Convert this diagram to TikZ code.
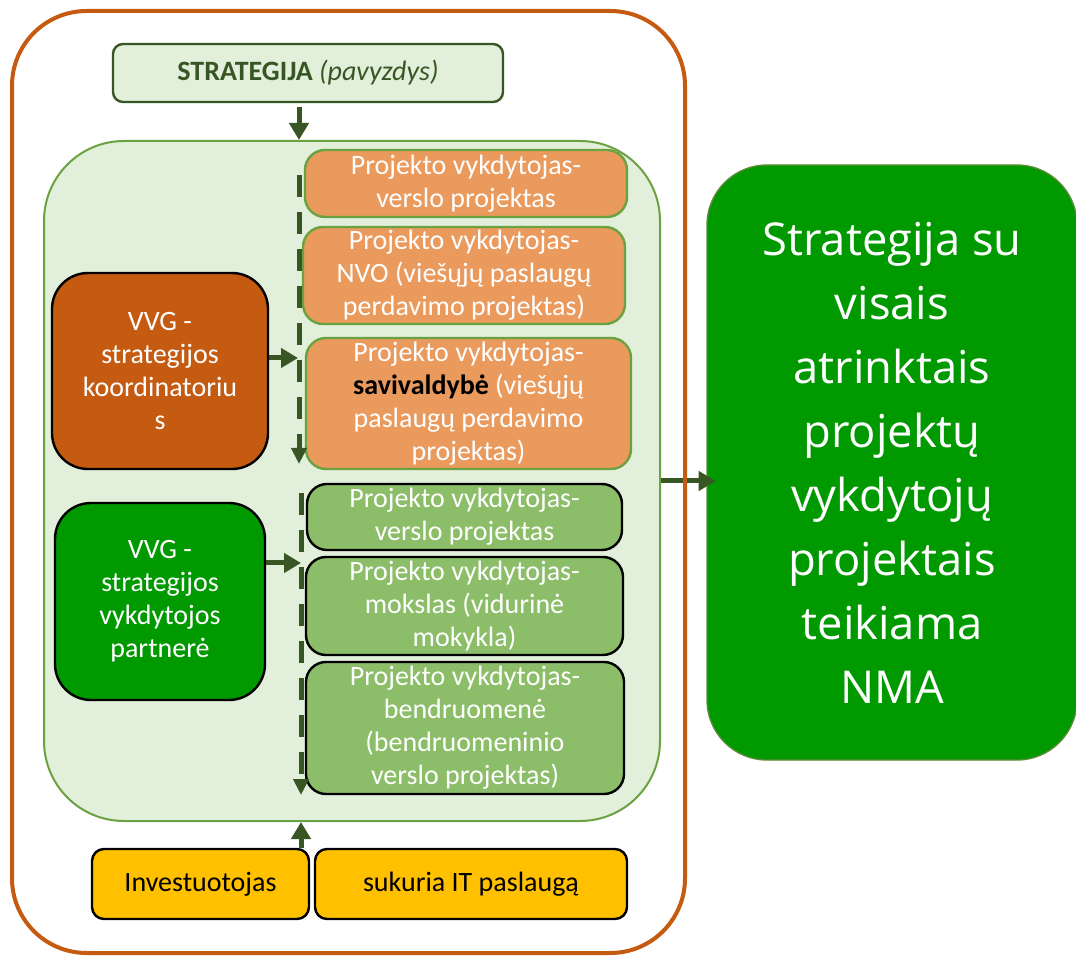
\documentclass[tikz,border=0pt]{standalone}
\usepackage{fontspec}
\setmainfont{Carlito}
\newfontfamily\osans{Open Sans}
\usetikzlibrary{arrows.meta}
\definecolor{orngdark}{HTML}{C55A11}
\definecolor{orngbox}{HTML}{EA9A5D}
\definecolor{lgreen}{HTML}{E2EFDA}
\definecolor{mgreen}{HTML}{6AA241}
\definecolor{dgreen}{HTML}{375623}
\definecolor{gbox}{HTML}{8CBD68}
\definecolor{vgreen}{HTML}{009900}
\definecolor{ylw}{HTML}{FFC000}
\definecolor{rbborder}{HTML}{5B8C3A}
\tikzset{
  txt/.style={align=center, inner sep=0pt, font=\fontsize{21}{24.75}\selectfont},
  orangebox/.style={txt, draw=mgreen, fill=orngbox, line width=1.8pt, rounded corners=15pt, text=white},
  greenbox/.style={txt, draw=black, fill=gbox, line width=1.8pt, rounded corners=15pt, text=white},
  vvgbox/.style={txt, draw=black, line width=1.8pt, rounded corners=27pt, text=white},
  yellowbox/.style={txt, draw=black, fill=ylw, line width=1.8pt, rounded corners=9pt, text=black},
  bigarrow/.style={draw=dgreen, line width=3.75pt, -{Triangle[width=14.25pt,length=12.75pt]}, dgreen},
  dasharrow/.style={draw=dgreen, line width=3.75pt, dash pattern=on 16.5pt off 11.25pt, -{Triangle[width=11.25pt,length=12pt]}, dgreen}
}
\begin{document}
\begin{tikzpicture}[x=0.75pt,y=-0.75pt]
\useasboundingbox (0,0) rectangle (1076,959);
\fill[white] (0,0) rectangle (1076,959);

% strategy box
\node[txt, draw=dgreen, fill=lgreen, line width=1.8pt, rounded corners=7.5pt, text=dgreen,
      minimum width=292.5pt, minimum height=43.5pt] (strat) at (308,73)
      {\textbf{STRATEGIJA} \textit{(pavyzdys)}};

% container
\node[draw=mgreen, fill=lgreen, line width=1.5pt, rounded corners=60pt,
      minimum width=462pt, minimum height=510pt, inner sep=0pt] (cont) at (352,481) {};

% coordinates for connectors
\coordinate (d1s) at (299,175);
\coordinate (d1e) at (299,464);
\coordinate (d2s) at (301,493);
\coordinate (d2e) at (301,795);
\coordinate (a1) at (298,358);
\coordinate (a2) at (301,563);

% orange boxes
\node[orangebox, minimum width=241.5pt, minimum height=50.25pt] (o1) at (466,183.5)
  {Projekto vykdytojas-\\verslo projektas};
\node[orangebox, minimum width=241.5pt, minimum height=72.75pt] (o2) at (464,275.5)
  {Projekto vykdytojas-\\NVO (viešųjų paslaugų\\perdavimo projektas)};
\node[orangebox, minimum width=243.75pt, minimum height=98.25pt] (o3) at (468.5,403.5)
  {Projekto vykdytojas-\\\textcolor{black}{\textbf{savivaldybė}} (viešųjų\\paslaugų perdavimo\\projektas)};

% green boxes
\node[greenbox, minimum width=236.25pt, minimum height=49.5pt] (g1) at (464.5,517)
  {Projekto vykdytojas-\\verslo projektas};
\node[greenbox, minimum width=237.75pt, minimum height=73.5pt] (g2) at (464.5,606)
  {Projekto vykdytojas-\\mokslas (vidurinė\\mokykla)};
\node[greenbox, minimum width=238.5pt, minimum height=99pt] (g3) at (465,728)
  {Projekto vykdytojas-\\bendruomenė\\(bendruomeninio\\verslo projektas)};

% VVG boxes
\node[vvgbox, fill=orngdark, minimum width=162pt, minimum height=147pt] (coord) at (160,371)
  {VVG -\\strategijos\\koordinatoriu\\s};
\node[vvgbox, fill=vgreen, minimum width=157.5pt, minimum height=147.75pt] (partner) at (160,601.5)
  {VVG -\\strategijos\\vykdytojos\\partnerė};

% yellow boxes
\node[yellowbox, minimum width=162.75pt, minimum height=52.5pt] (inv) at (200.5,884) {Investuotojas};
\node[yellowbox, minimum width=234pt, minimum height=52.5pt] (it) at (471,884) {sukuria IT paslaugą};

% right box
\node[draw=rbborder, fill=vgreen, line width=1pt, rounded corners=45pt, text=white,
      minimum width=277.5pt, minimum height=446.25pt, inner sep=0pt, align=center,
      font=\osans\fontsize{34}{48}\selectfont] (rb) at (892,462.5)
  {Strategija su\\visais\\atrinktais\\projektų\\vykdytojų\\projektais\\teikiama\\NMA};

% connectors
\draw[bigarrow, shorten <=3pt] (strat.south -| d1s) -- (cont.north -| d1s);
\draw[dasharrow] (d1s) -- (d1e);
\draw[dasharrow] (d2s) -- (d2e);
\draw[bigarrow] (coord.east |- a1) -- (a1);
\draw[bigarrow] (partner.east |- a2) -- (a2);
\draw[bigarrow] (inv.north -| d2s) -- (cont.south -| d2s);
\draw[bigarrow, shorten >=-7pt] (cont.east) -- (rb.west |- cont.east);

% outer frame
\node[draw=orngdark, line width=3pt, rounded corners=56pt,
      minimum width=504.75pt, minimum height=706.5pt, inner sep=0pt] (outer) at (348.5,482) {};
\end{tikzpicture}
\end{document}
